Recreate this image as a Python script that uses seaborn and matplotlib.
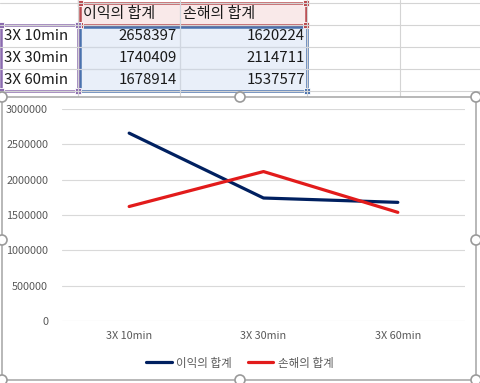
import matplotlib
matplotlib.use("Agg")
import matplotlib.pyplot as plt
import matplotlib.patches as mpatches
from matplotlib.ticker import MultipleLocator, StrMethodFormatter
import pandas as pd
import seaborn as sns

categories = ["3X 10min", "3X 30min", "3X 60min"]
profit = [2658397, 1740409, 1678914]
loss = [1620224, 2114711, 1537577]
series_names = ["이익의 합계", "손해의 합계"]
colors = ["#002060", "#E21B1B"]


def main():
    sns.set_theme(style="white")
    plt.rcParams["font.family"] = ["Noto Sans CJK KR", "DejaVu Sans"]

    W, H = 481, 383
    fig = plt.figure(figsize=(W / 100, H / 100), dpi=100)

    # spreadsheet background drawn in pixel coordinates
    bg = fig.add_axes([0, 0, 1, 1])
    bg.set_xlim(0, W)
    bg.set_ylim(H, 0)
    bg.axis("off")

    grid_c = "#D4D4D4"
    for x in [78, 180, 307, 400]:
        bg.plot([x, x], [0, 97], color=grid_c, lw=0.8)
    for y in [3, 25, 47, 69, 91]:
        bg.plot([0, W], [y, y], color=grid_c, lw=0.8)

    # selection ranges
    bg.add_patch(mpatches.Rectangle((80, 3), 226, 22, facecolor="#F9E9E9",
                                    edgecolor="#B94A4F", lw=1.8))
    bg.add_patch(mpatches.Rectangle((80, 27), 227, 64, facecolor="#E9EFF9",
                                    edgecolor="#4A72AE", lw=1.8))
    bg.add_patch(mpatches.Rectangle((1, 25), 77, 66, facecolor="none",
                                    edgecolor="#8B6BAF", lw=1.8))
    for x in [180]:
        bg.plot([x, x], [3, 91], color="#D0D6E0", lw=0.8)
    for y in [47, 69]:
        bg.plot([80, 307], [y, y], color="#D0D6E0", lw=0.8)
    for (x, y, c) in [(80, 3, "#B94A4F"), (306, 3, "#B94A4F"), (80, 25, "#B94A4F"),
                      (306, 25, "#B94A4F"), (307, 91, "#4A72AE"),
                      (1, 25, "#8B6BAF"), (78, 25, "#8B6BAF"),
                      (1, 91, "#8B6BAF"), (78, 91, "#8B6BAF")]:
        bg.add_patch(mpatches.Rectangle((x - 3, y - 3), 6, 6, facecolor=c,
                                        edgecolor="white", lw=0.6))

    fs = 10.8
    bg.text(83, 14, series_names[0], fontsize=fs, va="center", ha="left", color="#1A1A1A")
    bg.text(183, 14, series_names[1], fontsize=fs, va="center", ha="left", color="#1A1A1A")
    for i, cat in enumerate(categories):
        y = 36 + 22 * i
        bg.text(4, y, cat, fontsize=fs, va="center", ha="left", color="#1A1A1A")
        bg.text(177, y, str(profit[i]), fontsize=fs, va="center", ha="right", color="#1A1A1A")
        bg.text(305, y, str(loss[i]), fontsize=fs, va="center", ha="right", color="#1A1A1A")

    # chart frame
    bg.add_patch(mpatches.Rectangle((2, 97), 474, 283, facecolor="white",
                                    edgecolor="#ABABAB", lw=1.2, zorder=3))
    for (x, y) in [(2, 97), (240, 97), (476, 97), (2, 240), (476, 240),
                   (2, 380), (240, 380), (476, 380)]:
        bg.add_patch(mpatches.Circle((x, y), 5, facecolor="white",
                                     edgecolor="#9A9A9A", lw=1.2, zorder=4))

    # line chart
    df = pd.DataFrame({
        "구간": categories * 2,
        "값": profit + loss,
        "항목": [series_names[0]] * 3 + [series_names[1]] * 3,
    })
    ax = fig.add_axes([62 / W, 1 - 321 / H, 403 / W, 212 / H])
    ax.patch.set_alpha(0)
    ax.set_zorder(5)
    sns.lineplot(data=df, x="구간", y="값", hue="항목", palette=colors,
                 linewidth=2.3, ax=ax, sort=False)

    ax.set_xlim(-0.5, 2.5)
    ax.set_ylim(0, 3000000)
    ax.yaxis.set_major_locator(MultipleLocator(500000))
    ax.yaxis.set_major_formatter(StrMethodFormatter("{x:.0f}"))
    ax.grid(axis="y", color="#D9D9D9", lw=0.8)
    ax.grid(axis="x", visible=False)
    for s in ax.spines.values():
        s.set_visible(False)
    ax.tick_params(axis="y", length=0, pad=10, labelsize=7.8, labelcolor="#595959")
    ax.tick_params(axis="x", length=0, pad=7, labelsize=7.8, labelcolor="#595959")
    ax.set_xlabel("")
    ax.set_ylabel("")

    leg = ax.legend(loc="center", bbox_to_anchor=(240 / W, 1 - 363 / H),
                    bbox_transform=fig.transFigure, ncol=2, frameon=False,
                    fontsize=8.3, handlelength=2.2, handletextpad=0.4,
                    columnspacing=1.4)
    for t in leg.get_texts():
        t.set_color("#595959")
    for line in leg.get_lines():
        line.set_linewidth(2.3)

    fig.savefig("out.png", dpi=100)


if __name__ == "__main__":
    main()
